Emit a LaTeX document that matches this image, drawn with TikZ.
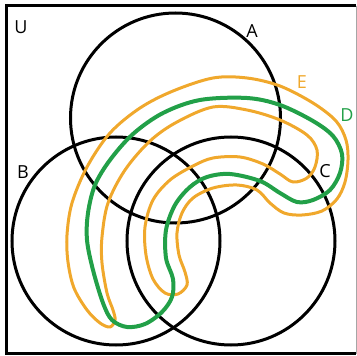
\documentclass[tikz,border=0pt]{standalone}
\usepackage{fontspec}
\setsansfont{Open Sans}
\usepackage{xcolor}
\usepackage{tikz}
\usetikzlibrary{positioning}
\definecolor{setorange}{RGB}{240,168,44}
\definecolor{setgreen}{RGB}{34,160,72}

\begin{document}
\begin{tikzpicture}[x=1pt, y=-1pt,
  setline/.style={black, line width=3pt},
  setlabel/.style={inner sep=0pt, font=\sffamily\fontsize{18}{20}\selectfont}]
  \useasboundingbox (0,0) rectangle (357,356);
  \draw[line width=3pt] (356,5.5) -- (6.5,5.5) -- (6.5,353.5) -- (356,353.5);
  \draw[gray!70, line width=1pt] (356,5.5) -- (356,353.5);
  \draw[setline] (175.5,118) circle (105);
  \draw[setline] (116,241) circle (104);
  \draw[setline] (231,241) circle (104);
  \draw[setorange, line width=3pt, line join=round] plot[smooth cycle, tension=0.55] coordinates {
    (213,107) (247,110) (280,120) (307,135) (317,150) (315,167) (307,178) (293,182)
    (280,174) (263,164) (240,157) (213,158) (193,166) (170,180) (153,200) (145,227)
    (146,255) (153,279) (165,293) (178,294) (187,285) (185,272) (179,255)
    (177,233) (182,213) (193,198) (213,188) (237,185) (257,190) (270,203) (284,213)
    (302,215) (322,211) (337,199) (345,182) (348,160) (346,140) (336,121) (313,103)
    (280,86) (247,78) (213,78) (173,91) (140,108) (110,133) (87,167) (72,203)
    (67,235) (68,262) (74,288) (87,310) (100,323) (110,327) (115,320) (113,310)
    (107,293) (102,263) (102,237) (108,203) (125,170) (150,141) (177,122)};
  \draw[setgreen, line width=4pt, line join=round] plot[smooth cycle, tension=0.55] coordinates {
    (112,320) (103,303) (93,270) (87,240) (88,213) (95,185) (110,160) (133,134)
    (163,113) (200,100) (247,98) (280,105) (313,121) (333,136) (342,154) (340,173)
    (330,190) (313,200) (297,202) (280,193) (260,181) (230,174) (207,177) (190,187)
    (175,205) (166,230) (166,258) (173,279) (172,297) (162,312) (145,324) (127,327)};
  \node[setlabel] (U) at (21,27) {U};
  \node[setlabel] (A) at (252,31) {A};
  \node[setlabel] (B) at (23,172) {B};
  \node[setlabel] (C) at (325,171) {C};
  \node[setlabel, text=setorange] (E) at (302,82) {E};
  \node[setlabel, text=setgreen] (D) at (347,115) {D};
\end{tikzpicture}
\end{document}
